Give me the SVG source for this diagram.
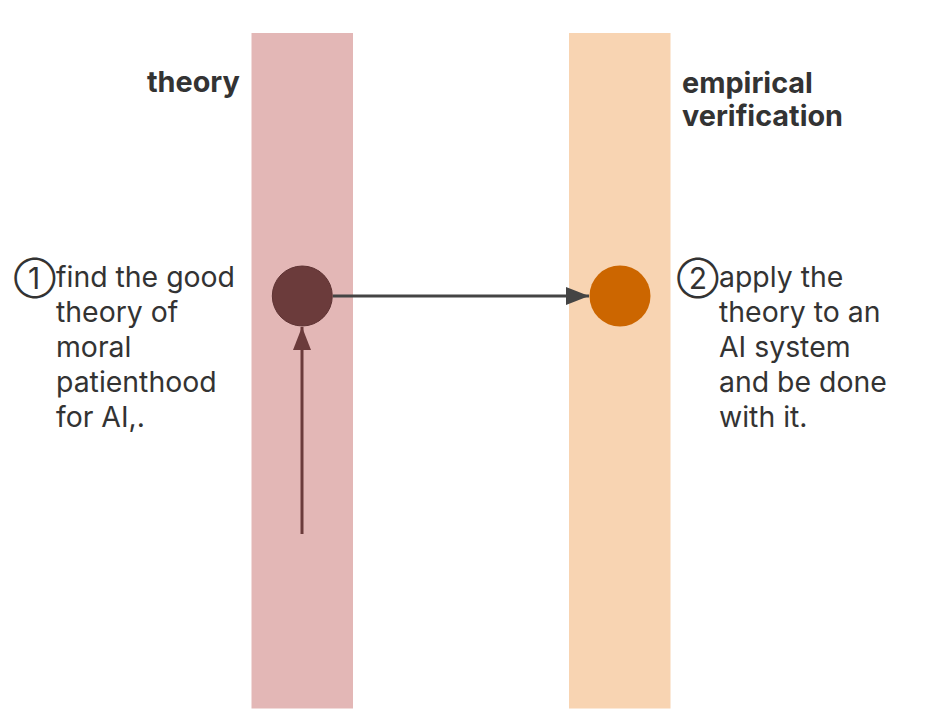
<svg xmlns="http://www.w3.org/2000/svg" width="937" height="723" viewBox="0 0 937 723">
<defs>
<style>
.lbl{font-family:Inter,"Noto Sans","Liberation Sans",sans-serif;font-size:28.4px;fill:#333333}
.hd{font-family:Inter,"Noto Sans","Liberation Sans",sans-serif;font-size:28.8px;font-weight:bold;fill:#333333}
.num{font-family:Inter,"Noto Sans CJK SC",sans-serif;font-size:30px;fill:#333333}
</style>
<marker id="ah" viewBox="0 0 10 10" refX="10" refY="5" markerWidth="23" markerHeight="18" markerUnits="userSpaceOnUse" orient="auto" preserveAspectRatio="none">
<path d="M0,0 L10,5 L0,10 z" fill="#444444"/>
</marker>
<marker id="ah2" viewBox="0 0 10 10" refX="10" refY="5" markerWidth="23" markerHeight="18" markerUnits="userSpaceOnUse" orient="auto" preserveAspectRatio="none">
<path d="M0,0 L10,5 L0,10 z" fill="#6b3b3b"/>
</marker>
</defs>
<rect width="937" height="723" fill="#ffffff"/>
<g id="lane-theory">
<rect x="251.5" y="33" width="101.5" height="675.5" fill="#e3b7b6"/>
<text class="hd" x="147" y="92">theory</text>
</g>
<g id="lane-empirical">
<rect x="569" y="33" width="101.5" height="675.5" fill="#f8d4b2"/>
<text class="hd" x="682" y="93">empirical</text>
<text class="hd" x="682" y="126">verification</text>
</g>
<g id="connectors">
<line x1="333" y1="296" x2="589" y2="296" stroke="#444444" stroke-width="3" marker-end="url(#ah)"/>
<line x1="302" y1="534" x2="302" y2="327" stroke="#6b3b3b" stroke-width="3" marker-end="url(#ah2)"/>
</g>
<g id="node-1">
<circle cx="302.3" cy="296" r="30" fill="#6b3b3b" stroke="#5e3333" stroke-width="1"/>
<text class="num" x="14" y="289">①</text>
<text class="lbl" x="56"><tspan x="56" y="287">find the good</tspan><tspan x="56" y="322">theory of</tspan><tspan x="56" y="357">moral</tspan><tspan x="56" y="392">patienthood</tspan><tspan x="56" y="427">for AI,.</tspan></text>
</g>
<g id="node-2">
<circle cx="620" cy="296" r="30.5" fill="#cc6600"/>
<text class="num" x="677" y="289">②</text>
<text class="lbl" x="719"><tspan x="719" y="287">apply the</tspan><tspan x="719" y="322">theory to an</tspan><tspan x="719" y="357">AI system</tspan><tspan x="719" y="392">and be done</tspan><tspan x="719" y="427">with it.</tspan></text>
</g>
</svg>
